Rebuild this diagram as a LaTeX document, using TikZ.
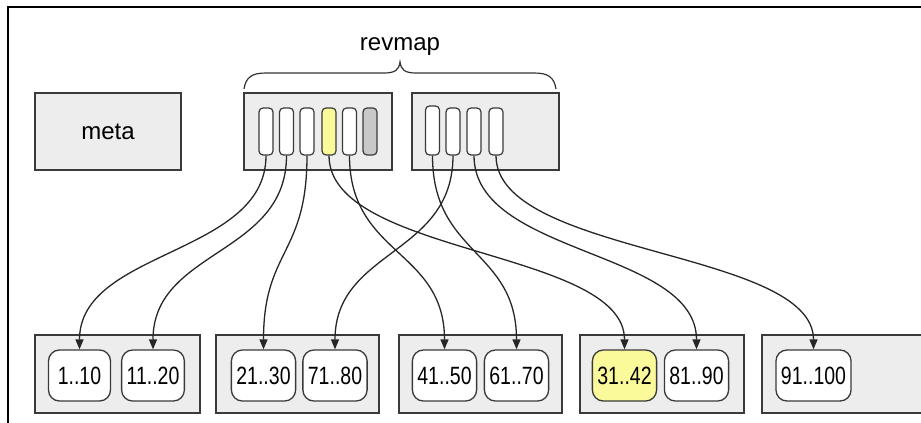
\documentclass[tikz,border=0pt]{standalone}
\usepackage{fontspec}
\setmainfont{Liberation Sans}
\newfontfamily\narrowfont[FakeStretch=0.78]{Liberation Sans}
\usetikzlibrary{arrows.meta}
\definecolor{boxfill}{HTML}{EDEDED}
\definecolor{boxline}{HTML}{3A3A3A}
\definecolor{hiyellow}{HTML}{FAFA9A}
\definecolor{slotgray}{HTML}{C8C8C8}
\tikzset{
  pagebox/.style={draw=boxline, fill=boxfill, line width=1.4pt, inner sep=0pt},
  slotbox/.style={draw=boxline, fill=white, line width=1.2pt, rounded corners=4pt,
    minimum width=14pt, minimum height=47pt, inner sep=0pt},
  leafbox/.style={draw=boxline, fill=white, line width=1.3pt, rounded corners=11pt,
    minimum width=62pt, minimum height=51pt, inner xsep=5pt, inner ysep=0pt,
    font=\narrowfont\fontsize{25}{25}\selectfont},
  link/.style={line width=1.3pt, draw=black!85, -{Triangle[length=10pt,width=8pt]}},
  lbl/.style={font=\fontsize{24}{24}\selectfont, inner sep=0pt}
}
\begin{document}
\begin{tikzpicture}[x=1pt,y=-1pt]
\useasboundingbox (0,0) rectangle (921,423);
% frame
\draw[line width=2pt] (7.5,423) -- (7.5,6.5) -- (921,6.5);

% meta
\node[pagebox, minimum width=146pt, minimum height=77pt, font=\fontsize{24}{24}\selectfont] (meta) at (108,131.5) {meta};

% revmap pages
\node[pagebox, minimum width=148pt, minimum height=77pt] (p1) at (318,131.5) {};
\node[pagebox, minimum width=147pt, minimum height=77pt] (p2) at (485.5,131.5) {};

% brace and label
\draw[line width=1.2pt, draw=black!80] (244,89) .. controls (246,77) and (252,73) .. (266,73) -- (384,73)
  .. controls (395,73) and (399,70) .. (400,62) .. controls (401,70) and (405,73) .. (416,73)
  -- (534,73) .. controls (548,73) and (554,77) .. (556,89);
\node[lbl] (revmap) at (400,47) {revmap};

% slots page 1
\node[slotbox] (a1) at (266,131.5) {};
\node[slotbox] (a2) at (286.5,131.5) {};
\node[slotbox] (a3) at (307,131.5) {};
\node[slotbox, fill=hiyellow] (a4) at (329,131.5) {};
\node[slotbox] (a5) at (349.5,131.5) {};
\node[slotbox, fill=slotgray] (a6) at (370,131.5) {};
% slots page 2
\node[slotbox, minimum height=49pt] (b1) at (432.5,130.5) {};
\node[slotbox] (b2) at (453,131.5) {};
\node[slotbox] (b3) at (474,131.5) {};
\node[slotbox] (b4) at (496,131.5) {};

% leaf containers
\node[pagebox, minimum width=165pt, minimum height=78pt] (c1) at (117.5,374) {};
\node[pagebox, minimum width=163pt, minimum height=78pt] (c2) at (297.5,374) {};
\node[pagebox, minimum width=163pt, minimum height=78pt] (c3) at (480.5,374) {};
\node[pagebox, minimum width=164pt, minimum height=78pt] (c4) at (662,374) {};
\node[pagebox, minimum width=170pt, minimum height=78pt] (c5) at (847,374) {};

% leaves
\node[leafbox] (l1) at (79.5,375.5) {1..10};
\node[leafbox] (l2) at (153,375.5) {11..20};
\node[leafbox] (l3) at (263.5,375.5) {21..30};
\node[leafbox] (l4) at (335,375.5) {71..80};
\node[leafbox] (l5) at (444.5,375.5) {41..50};
\node[leafbox] (l6) at (516.5,375.5) {61..70};
\node[leafbox, fill=hiyellow] (l7) at (624.5,375.5) {31..42};
\node[leafbox] (l8) at (696.5,375.5) {81..90};
\node[leafbox] (l9) at (813.5,375.5) {91..100};

% links
\foreach \s/\t in {a1/l1, a2/l2, a3/l3, a4/l7, a5/l5, b1/l6, b2/l4, b3/l8, b4/l9}{
  \draw[link] (\s.south) .. controls +(0,100) and +(0,-100) .. (\t.north);
}
\end{tikzpicture}
\end{document}
